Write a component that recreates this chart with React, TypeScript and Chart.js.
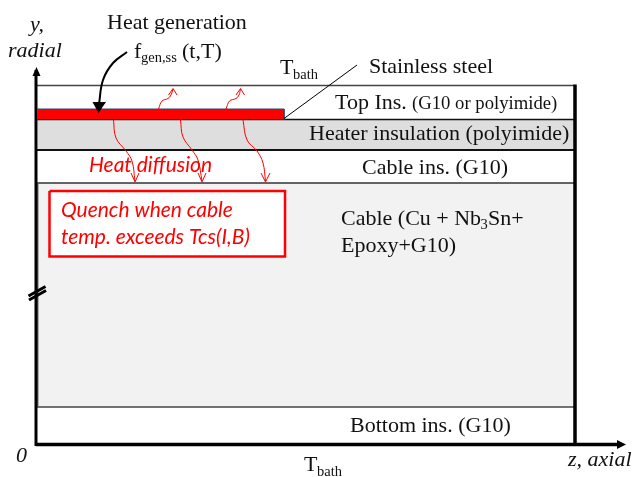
import React, { useEffect, useRef } from "react";
import { Chart, registerables } from "chart.js";

Chart.register(...registerables);

const WIDTH = 632;
const HEIGHT = 477;
const SERIF = '"Liberation Serif"';
const SANS = 'Lato';

type P = [number, number];

// Diagram geometry in axis units (z along the x scale, y radial, growing downward on the reversed scale)
const zAxisStart = 36;
const zWall = 575;
const yTop = 85.5;
const yHeaterTop = 119.5;
const yCableInsTop = 150;
const yCableTop = 183;
const yBottomInsTop = 407;
const yBase = 444.5;

const heaterBand: P[] = [[38, yHeaterTop], [574, yHeaterTop], [574, yCableInsTop], [38, yCableInsTop], [38, yHeaterTop]];
const cableBand: P[] = [[38, yCableTop], [574, yCableTop], [574, yBottomInsTop], [38, yBottomInsTop], [38, yCableTop]];
const steelStrip: P[] = [[37, 109], [284, 109], [284, 119.5], [37, 119.5], [37, 109]];
const steelEdge: P[] = [[37, 109], [284, 109], [284, 119.5]];
const quenchBox: P[] = [[49.5, 191], [285, 191], [285, 256.5], [49.5, 256.5], [49.5, 191]];
const steelLeader: P[] = [[284, 118.5], [357, 65]];

const heatPathUp1: P[] = [[158.5, 109], [162, 101], [168, 98.5], [171, 95], [173, 89]];
const heatPathUp2: P[] = [[226, 109], [229.5, 101], [236, 98.5], [239, 95], [240.5, 89]];
const heatPathDown1: P[] = [[113.5, 120], [116, 138], [126, 151], [132, 161], [135, 181]];
const heatPathDown2: P[] = [[180.5, 120], [183, 137], [192, 150], [198, 160], [202, 181]];
const heatPathDown3: P[] = [[243, 120], [247, 140], [257, 151], [263, 163], [265.5, 181]];
const headUp1: P[] = [[168.5, 95], [173, 88.5], [177, 95]];
const headUp2: P[] = [[236, 95], [240.5, 88.5], [244.5, 95]];
const headDown1: P[] = [[131, 173], [135, 182], [139, 173]];
const headDown2: P[] = [[198, 173], [202, 182], [206, 173]];
const headDown3: P[] = [[261, 173], [265.5, 182], [270, 173]];

const generationPath: P[] = [[127, 52], [113, 63], [103, 80], [99, 104]];
const generationHead: P[] = [[92.5, 102], [106, 102], [98.5, 113], [92.5, 102]];

const yAxisHead: P[] = [[32.5, 76], [36.5, 67], [40.5, 76], [32.5, 76]];
const zAxisHead: P[] = [[617, 440], [626, 444.5], [617, 449], [617, 440]];
const breakOuter1: P[] = [[28.5, 296], [45.5, 286.5]];
const breakOuter2: P[] = [[29, 300], [46, 290.5]];

type Run = { text: string; z: number; y: number; font: string; color?: string };

const italic = (s: number) => `italic ${s}px ${SERIF}`;
const roman = (s: number) => `${s}px ${SERIF}`;
const calibriItalic = (s: number) => `italic ${s}px ${SANS}`;

const labels: Run[] = [
  { text: "y,", z: 30, y: 31, font: italic(22) },
  { text: "radial", z: 8, y: 57, font: italic(22) },
  { text: "Heat generation", z: 107, y: 29, font: roman(22) },
  { text: "f", z: 134, y: 58, font: roman(22) },
  { text: "gen,ss", z: 141, y: 62, font: roman(14.5) },
  { text: "(t,T)", z: 182, y: 58, font: roman(22) },
  { text: "T", z: 280, y: 74, font: roman(22) },
  { text: "bath", z: 293, y: 79, font: roman(14.5) },
  { text: "Stainless steel", z: 369, y: 73, font: roman(22) },
  { text: "Top Ins.", z: 335, y: 109, font: roman(22) },
  { text: "(G10 or polyimide)", z: 412, y: 109, font: roman(18.7) },
  { text: "Heater insulation (polyimide)", z: 309, y: 140, font: roman(22) },
  { text: "Cable ins. (G10)", z: 362, y: 174, font: roman(22) },
  { text: "Cable (Cu + Nb", z: 341, y: 225, font: roman(22) },
  { text: "3", z: 480.5, y: 229, font: roman(14.5) },
  { text: "Sn+", z: 488, y: 225, font: roman(22) },
  { text: "Epoxy+G10)", z: 341, y: 252, font: roman(22) },
  { text: "Bottom ins. (G10)", z: 350, y: 432, font: roman(22) },
  { text: "T", z: 304, y: 471, font: roman(22) },
  { text: "bath", z: 317, y: 476, font: roman(14.5) },
  { text: "0", z: 16, y: 462, font: italic(22) },
  { text: "z, axial", z: 568, y: 466, font: italic(22) },
  { text: "Heat diffusion", z: 89, y: 172, font: calibriItalic(21), color: "#ff0000" },
  { text: "Quench when cable", z: 61, y: 217, font: calibriItalic(21), color: "#ff0000" },
  { text: "temp. exceeds Tcs(I,B)", z: 61, y: 244, font: calibriItalic(21), color: "#ff0000" },
];

const toXY = (pts: P[]) => pts.map(([x, y]) => ({ x, y }));

const stroke = (pts: P[], color: string, width: number, tension = 0) => ({
  data: toXY(pts),
  showLine: true,
  fill: false,
  borderColor: color,
  borderWidth: width,
  tension,
  pointRadius: 0,
  borderCapStyle: "butt",
  borderJoinStyle: "miter",
});

const shape = (pts: P[], color: string) => ({
  data: toXY(pts),
  showLine: true,
  fill: "shape",
  backgroundColor: color,
  borderColor: "transparent",
  borderWidth: 0.01,
  tension: 0,
  pointRadius: 0,
});

const h = (y: number, x0: number, x1: number): P[] => [[x0, y], [x1, y]];
const v = (x: number, y0: number, y1: number): P[] => [[x, y0], [x, y1]];

const textPlugin = {
  id: "diagramText",
  afterDatasetsDraw(chart: any) {
    const { ctx, scales } = chart;
    ctx.save();
    ctx.textBaseline = "alphabetic";
    ctx.textAlign = "left";
    for (const r of labels) {
      ctx.font = r.font;
      ctx.fillStyle = r.color ?? "#111111";
      ctx.fillText(r.text, scales.x.getPixelForValue(r.z), scales.y.getPixelForValue(r.y));
    }
    ctx.restore();
  },
};

export default function App() {
  const ref = useRef<HTMLCanvasElement>(null);
  useEffect(() => {
    if (!ref.current) return;
    const layers: any[] = [
      shape(heaterBand, "#dedede"),
      shape(cableBand, "#f2f2f2"),
      stroke(h(yTop, zAxisStart, zWall), "#444444", 1.5),
      stroke(h(yHeaterTop, 37, zWall), "#111111", 1.5),
      stroke(h(yCableInsTop, 37, zWall), "#111111", 2),
      stroke(h(yCableTop, 37, zWall), "#333333", 1.5),
      stroke(h(yBottomInsTop, 37, zWall), "#444444", 1.5),
      stroke(v(37.7, 183, 406), "#666666", 1),
      stroke(v(zAxisStart, 70, yBase + 1.5), "#000000", 3),
      stroke(v(zWall, yTop - 1, yBase + 1.5), "#000000", 3.5),
      stroke(h(yBase, zAxisStart, 620), "#000000", 3.5),
      shape(yAxisHead, "#000000"),
      shape(zAxisHead, "#000000"),
      stroke(breakOuter1, "#000000", 3),
      stroke(breakOuter2, "#000000", 3),
      shape(steelStrip, "#ff0000"),
      stroke(steelEdge, "#1f4e79", 1),
      stroke(steelLeader, "#000000", 1),
      shape(quenchBox, "#ffffff"),
      stroke(quenchBox, "#ff0000", 2.5),
      stroke(generationPath, "#000000", 2, 0.4),
      shape(generationHead, "#000000"),
      stroke(heatPathUp1, "#ff0000", 1, 0.4),
      stroke(heatPathUp2, "#ff0000", 1, 0.4),
      stroke(heatPathDown1, "#ff0000", 1, 0.4),
      stroke(heatPathDown2, "#ff0000", 1, 0.4),
      stroke(heatPathDown3, "#ff0000", 1, 0.4),
      stroke(headUp1, "#ff0000", 1),
      stroke(headUp2, "#ff0000", 1),
      stroke(headDown1, "#ff0000", 1),
      stroke(headDown2, "#ff0000", 1),
      stroke(headDown3, "#ff0000", 1),
    ];
    layers.forEach((d, i) => (d.order = layers.length - i));
    const chart = new Chart(ref.current, {
      type: "scatter",
      data: { datasets: layers },
      options: {
        animation: false,
        responsive: false,
        layout: { padding: 0 },
        plugins: { legend: { display: false }, tooltip: { enabled: false }, title: { display: false } },
        scales: {
          x: { type: "linear", display: false, min: 0, max: WIDTH },
          y: { type: "linear", display: false, min: 0, max: HEIGHT, reverse: true },
        },
      },
      plugins: [textPlugin],
    } as any);
    return () => chart.destroy();
  }, []);
  return (
    <div style={{ position: "absolute", left: 0, top: 0, width: WIDTH, height: HEIGHT, background: "#ffffff" }}>
      <canvas ref={ref} width={WIDTH} height={HEIGHT} style={{ display: "block" }} />
    </div>
  );
}
